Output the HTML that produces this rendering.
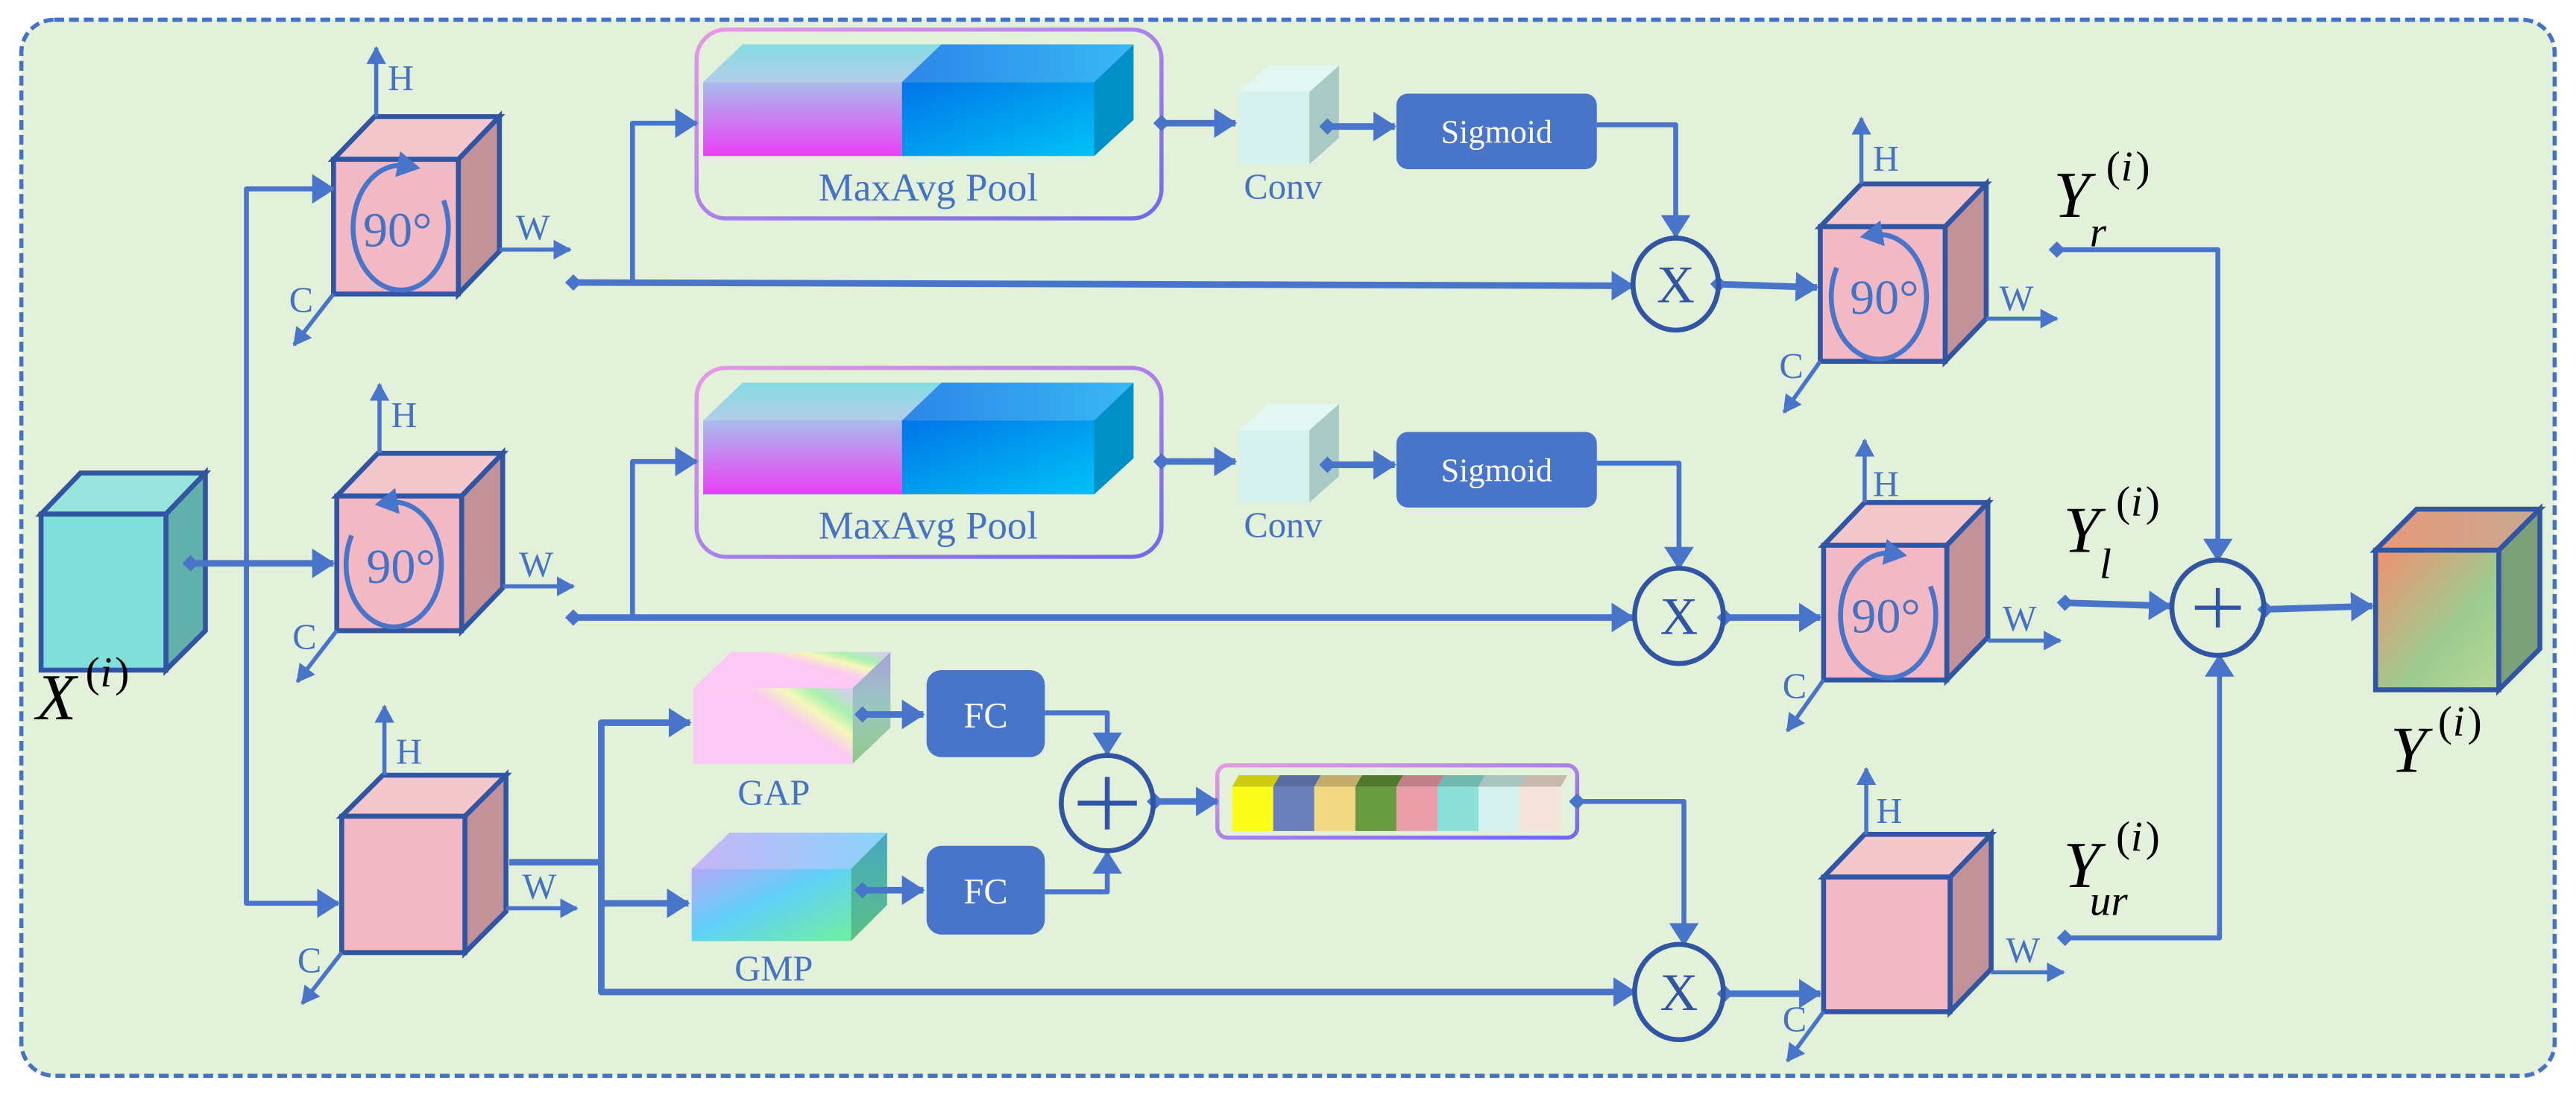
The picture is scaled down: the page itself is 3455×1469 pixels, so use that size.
<!DOCTYPE html>
<html><head><meta charset="utf-8"><style>
html,body{margin:0;padding:0;background:#fff;}
svg{display:block;}
text{font-family:"Liberation Serif",serif;}
</style></head><body>
<svg width="3455" height="1469" viewBox="0 0 1568 666.7" preserveAspectRatio="none" xmlns="http://www.w3.org/2000/svg">
<defs>
<marker id="a" markerUnits="userSpaceOnUse" markerWidth="14" markerHeight="18" refX="13" refY="9" orient="auto"><path d="M0,0 L14,9 L0,18 z" fill="#4874c9"/></marker>
<marker id="s" markerUnits="userSpaceOnUse" markerWidth="11" markerHeight="12" refX="10" refY="6" orient="auto"><path d="M0,0 L11,6 L0,12 z" fill="#4874c9"/></marker>
<marker id="r" markerUnits="userSpaceOnUse" markerWidth="14" markerHeight="16" refX="6" refY="8" orient="auto"><path d="M0,0 L14,8 L0,16 z" fill="#4874c9"/></marker>
<marker id="d" markerUnits="userSpaceOnUse" markerWidth="10" markerHeight="10" refX="5" refY="5" orient="auto"><path d="M0,5 L5,0 L10,5 L5,10 z" fill="#4874c9"/></marker>
<linearGradient id="mL" x1="0" y1="0" x2="0" y2="1"><stop offset="0" stop-color="#a9bceb"/><stop offset="1" stop-color="#ea3ff6"/></linearGradient>
<linearGradient id="mLt" x1="0" y1="0" x2="0" y2="1"><stop offset="0" stop-color="#84dce0"/><stop offset="1" stop-color="#b3cdea"/></linearGradient>
<linearGradient id="mR" x1="0" y1="0" x2="1" y2="1"><stop offset="0" stop-color="#0075e8"/><stop offset="1" stop-color="#00c2f6"/></linearGradient>
<linearGradient id="mRt" x1="0" y1="0" x2="1" y2="0"><stop offset="0" stop-color="#2d86e8"/><stop offset="1" stop-color="#38b8f5"/></linearGradient>
<linearGradient id="bx" x1="0" y1="0" x2="1" y2="1"><stop offset="0" stop-color="#e89ae4"/><stop offset="1" stop-color="#7068f0"/></linearGradient>
<linearGradient id="gap" x1="0" y1="0.7" x2="1" y2="0"><stop offset="0" stop-color="#fcc8f4"/><stop offset="0.55" stop-color="#fcc8f4"/><stop offset="0.7" stop-color="#f4f8b8"/><stop offset="0.82" stop-color="#a8f0b0"/><stop offset="1" stop-color="#e0c8f8"/></linearGradient>
<linearGradient id="gaps" x1="0" y1="0" x2="0" y2="1"><stop offset="0" stop-color="#a8a0d8"/><stop offset="0.5" stop-color="#9ac8c0"/><stop offset="1" stop-color="#90c888"/></linearGradient>
<linearGradient id="gmp" x1="0" y1="0" x2="1" y2="1"><stop offset="0" stop-color="#b4a8f8"/><stop offset="0.45" stop-color="#60d0f8"/><stop offset="1" stop-color="#70f0a0"/></linearGradient>
<linearGradient id="gmpt" x1="0" y1="0" x2="1" y2="0"><stop offset="0" stop-color="#c8b4f8"/><stop offset="1" stop-color="#88d4f8"/></linearGradient>
<linearGradient id="gmps" x1="0" y1="0" x2="0" y2="1"><stop offset="0" stop-color="#48a8c0"/><stop offset="1" stop-color="#58c088"/></linearGradient>
<linearGradient id="out" x1="0" y1="0" x2="1" y2="1"><stop offset="0" stop-color="#f29070"/><stop offset="0.6" stop-color="#9ccc90"/><stop offset="1" stop-color="#b8d898"/></linearGradient>
<linearGradient id="outt" x1="0" y1="0" x2="1" y2="0"><stop offset="0" stop-color="#e89878"/><stop offset="1" stop-color="#c8a890"/></linearGradient>
</defs>
<rect x="0" y="0" width="1568" height="667" fill="#fff"/>
<rect x="13" y="12" width="1542" height="643" rx="20" fill="#e3f0da" stroke="#4472c4" stroke-width="2.5" stroke-dasharray="6,3"/>

<g stroke="#2f55a3" stroke-width="3" stroke-linejoin="miter">
<polygon points="25,313 49,288 125,288 101,313" fill="#98e4dc"/>
<polygon points="101,313 125,288 125,384 101,408" fill="#62b0ab"/>
<rect x="25" y="313" width="76" height="95" fill="#80dfd9"/>
<polygon points="203,97 228,71 304,71 279,97" fill="#f4c7cd"/>
<polygon points="279,97 304,71 304,153 279,179" fill="#c29298"/>
<rect x="203" y="97" width="76" height="82" fill="#f2b8c4"/>
<polygon points="205,302 230,276 306,276 281,302" fill="#f4c7cd"/>
<polygon points="281,302 306,276 306,358 281,384" fill="#c29298"/>
<rect x="205" y="302" width="76" height="82" fill="#f2b8c4"/>
<polygon points="208,497 233,472 308,472 283,497" fill="#f4c7cd"/>
<polygon points="283,497 308,472 308,555 283,580" fill="#c29298"/>
<rect x="208" y="497" width="75" height="83" fill="#f2b8c4"/>
<polygon points="1108,138 1133,112 1209,112 1184,138" fill="#f4c7cd"/>
<polygon points="1184,138 1209,112 1209,194 1184,220" fill="#c29298"/>
<rect x="1108" y="138" width="76" height="82" fill="#f2b8c4"/>
<polygon points="1110,332 1135,306 1210,306 1185,332" fill="#f4c7cd"/>
<polygon points="1185,332 1210,306 1210,388 1185,414" fill="#c29298"/>
<rect x="1110" y="332" width="75" height="82" fill="#f2b8c4"/>
<polygon points="1110,534 1135,508 1212,508 1187,534" fill="#f4c7cd"/>
<polygon points="1187,534 1212,508 1212,590 1187,616" fill="#c29298"/>
<rect x="1110" y="534" width="77" height="82" fill="#f2b8c4"/>
<polygon points="1446,335 1471,310 1546,310 1521,335" fill="url(#outt)"/>
<polygon points="1521,335 1546,310 1546,395 1521,420" fill="#7ca078"/>
<rect x="1446" y="335" width="75" height="85" fill="url(#out)"/>
</g>

<g>
<rect x="424" y="18" width="283" height="115" rx="18" fill="none" stroke="url(#bx)" stroke-width="2.5"/>
<polygon points="428,50 452,27 573,27 549,50" fill="url(#mLt)"/><polygon points="549,50 573,27 690,27 666,50" fill="url(#mRt)"/>
<polygon points="666,50 690,27 690,73 666,95" fill="#0090c8"/>
<rect x="428" y="50" width="121" height="45" fill="url(#mL)"/><rect x="549" y="50" width="117" height="45" fill="url(#mR)"/>
<text x="565" y="122" font-size="24" fill="#4472c4" text-anchor="middle">MaxAvg Pool</text>
</g>
<g transform="translate(0,206)">
<rect x="424" y="18" width="283" height="115" rx="18" fill="none" stroke="url(#bx)" stroke-width="2.5"/>
<polygon points="428,50 452,27 573,27 549,50" fill="url(#mLt)"/><polygon points="549,50 573,27 690,27 666,50" fill="url(#mRt)"/>
<polygon points="666,50 690,27 690,73 666,95" fill="#0090c8"/>
<rect x="428" y="50" width="121" height="45" fill="url(#mL)"/><rect x="549" y="50" width="117" height="45" fill="url(#mR)"/>
<text x="565" y="122" font-size="24" fill="#4472c4" text-anchor="middle">MaxAvg Pool</text>
</g>
<g>
<polygon points="754,56 772,40 815,40 797,56" fill="#e2f6f2"/><polygon points="797,56 815,40 815,84 797,100" fill="#a8c9c4"/><rect x="754" y="56" width="43" height="44" fill="#d5f2ee"/>
<text x="781" y="121" font-size="22" fill="#4472c4" text-anchor="middle">Conv</text>
<rect x="850" y="57" width="122" height="46" rx="7" fill="#4874c9"/>
<text x="911" y="87" font-size="20" fill="#fff" text-anchor="middle">Sigmoid</text>
</g>
<g transform="translate(0,206)">
<polygon points="754,56 772,40 815,40 797,56" fill="#e2f6f2"/><polygon points="797,56 815,40 815,84 797,100" fill="#a8c9c4"/><rect x="754" y="56" width="43" height="44" fill="#d5f2ee"/>
<text x="781" y="121" font-size="22" fill="#4472c4" text-anchor="middle">Conv</text>
<rect x="850" y="57" width="122" height="46" rx="7" fill="#4874c9"/>
<text x="911" y="87" font-size="20" fill="#fff" text-anchor="middle">Sigmoid</text>
</g>
<polygon points="422,419 445,397 542,397 519,419" fill="url(#gap)"/><polygon points="519,419 542,397 542,443 519,465" fill="url(#gaps)"/><rect x="422" y="419" width="97" height="46" fill="url(#gap)"/>
<text x="471" y="490" font-size="22" fill="#4472c4" text-anchor="middle">GAP</text>
<polygon points="421,529 444,507 540,507 518,529" fill="url(#gmpt)"/><polygon points="518,529 540,507 540,551 518,573" fill="url(#gmps)"/><rect x="421" y="529" width="97" height="44" fill="url(#gmp)"/>
<text x="471" y="597" font-size="22" fill="#4472c4" text-anchor="middle">GMP</text>
<rect x="564" y="408" width="72" height="53" rx="9" fill="#4874c9"/><text x="600" y="443" font-size="22" fill="#fff" text-anchor="middle">FC</text>
<rect x="564" y="515" width="72" height="54" rx="9" fill="#4874c9"/><text x="600" y="550" font-size="22" fill="#fff" text-anchor="middle">FC</text>
<rect x="741" y="466" width="219" height="44" rx="6" fill="none" stroke="url(#bx)" stroke-width="2.5"/>
<g>
<polygon points="750,479 754,472 779,472 775,479" fill="#cccc10"/><rect x="750" y="479" width="25" height="27" fill="#fcfc1a"/>
<polygon points="775,479 779,472 804,472 800,479" fill="#5a6da0"/><rect x="775" y="479" width="25" height="27" fill="#6b7fbd"/>
<polygon points="800,479 804,472 829,472 825,479" fill="#c4ad6a"/><rect x="800" y="479" width="25" height="27" fill="#f2d880"/>
<polygon points="825,479 829,472 854,472 850,479" fill="#50782f"/><rect x="825" y="479" width="25" height="27" fill="#6a9a40"/>
<polygon points="850,479 854,472 879,472 875,479" fill="#c08088"/><rect x="850" y="479" width="25" height="27" fill="#eb9fa8"/>
<polygon points="875,479 879,472 904,472 900,479" fill="#70b8b0"/><rect x="875" y="479" width="25" height="27" fill="#8be0d8"/>
<polygon points="900,479 904,472 929,472 925,479" fill="#aac5c0"/><rect x="900" y="479" width="25" height="27" fill="#d5f2ee"/>
<polygon points="925,479 929,472 954,472 950,479" fill="#c8b8ae"/><rect x="925" y="479" width="25" height="27" fill="#f5e4dc"/>
</g>

<g fill="none" stroke="#4874c9" stroke-width="4" stroke-linejoin="round">
<path d="M116,343 L203,343" marker-start="url(#d)" marker-end="url(#a)"/>
<path d="M150,550 L150,115 L203,115" stroke-width="3" marker-end="url(#a)"/>
<path d="M150,343 L150,550 L206,550" stroke-width="3" marker-end="url(#a)"/>
<path d="M349,172 L994,174" marker-start="url(#d)" marker-end="url(#a)"/>
<path d="M385,172 L385,75 L424,75" stroke-width="3" marker-end="url(#a)"/>
<path d="M349,376 L994,376" marker-start="url(#d)" marker-end="url(#a)"/>
<path d="M385,376 L385,281 L424,281" stroke-width="3" marker-end="url(#a)"/>
<path d="M707,75 L752,75" marker-start="url(#d)" marker-end="url(#a)"/>
<path d="M707,281 L752,281" marker-start="url(#d)" marker-end="url(#a)"/>
<path d="M808,77 L849,77" marker-start="url(#d)" marker-end="url(#a)"/>
<path d="M808,283 L849,283" marker-start="url(#d)" marker-end="url(#a)"/>
<path d="M972,76 L1020,76 L1020,144" stroke-width="3" marker-end="url(#a)"/>
<path d="M972,282 L1022,282 L1022,346" stroke-width="3" marker-end="url(#a)"/>
<path d="M1046,173 L1106,175" marker-start="url(#d)" marker-end="url(#a)"/>
<path d="M1050,376 L1108,376" marker-start="url(#d)" marker-end="url(#a)"/>
<path d="M1050,605 L1108,605" marker-start="url(#d)" marker-end="url(#a)"/>
<path d="M310,525 L366,525 L366,604 L995,604" marker-end="url(#a)"/>
<path d="M366,525 L366,440 L420,440" marker-end="url(#a)"/>
<path d="M366,550 L419,550" marker-end="url(#a)"/>
<path d="M525,435 L562,435" marker-start="url(#d)" marker-end="url(#a)"/>
<path d="M525,542 L562,542" marker-start="url(#d)" marker-end="url(#a)"/>
<path d="M636,434 L674,434 L674,459" stroke-width="3" marker-end="url(#a)"/>
<path d="M636,543 L674,543 L674,519" stroke-width="3" marker-end="url(#a)"/>
<path d="M703,488 L741,488" marker-start="url(#d)" marker-end="url(#a)"/>
<path d="M960,488 L1025,488 L1025,575" stroke-width="3" marker-start="url(#d)" marker-end="url(#a)"/>
<path d="M1252,152 L1350,152 L1350,341" stroke-width="3" marker-start="url(#d)" marker-end="url(#a)"/>
<path d="M1257,367 L1321,369" marker-start="url(#d)" marker-end="url(#a)"/>
<path d="M1257,571 L1351,571 L1351,399" stroke-width="3" marker-start="url(#d)" marker-end="url(#a)"/>
<path d="M1379,371 L1444,369" marker-start="url(#d)" marker-end="url(#a)"/>
</g>
<g fill="none" stroke="#4874c9" stroke-width="2.5">
<path d="M229,71 L229,29" marker-end="url(#s)"/><path d="M304,152 L347,152" marker-end="url(#s)"/><path d="M203,179 L179,210" marker-end="url(#s)"/>
<path d="M231,276 L231,234" marker-end="url(#s)"/><path d="M306,357 L349,357" marker-end="url(#s)"/><path d="M205,384 L181,415" marker-end="url(#s)"/>
<path d="M234,472 L234,430" marker-end="url(#s)"/><path d="M308,553 L351,553" marker-end="url(#s)"/><path d="M208,580 L184,611" marker-end="url(#s)"/>
<path d="M1133,112 L1133,72" marker-end="url(#s)"/><path d="M1209,194 L1252,194" marker-end="url(#s)"/><path d="M1108,220 L1086,251" marker-end="url(#s)"/>
<path d="M1135,306 L1135,268" marker-end="url(#s)"/><path d="M1210,390 L1254,390" marker-end="url(#s)"/><path d="M1110,414 L1088,445" marker-end="url(#s)"/>
<path d="M1136,508 L1136,468" marker-end="url(#s)"/><path d="M1212,592 L1256,592" marker-end="url(#s)"/><path d="M1110,616 L1088,646" marker-end="url(#s)"/>
</g>
<g font-size="22" fill="#4472c4">
<text x="236" y="55">H</text><text x="314" y="146">W</text><text x="176" y="190">C</text>
<text x="238" y="260">H</text><text x="316" y="351">W</text><text x="178" y="395">C</text>
<text x="241" y="465">H</text><text x="318" y="547">W</text><text x="181" y="592">C</text>
<text x="1140" y="104">H</text><text x="1217" y="189">W</text><text x="1083" y="230">C</text>
<text x="1140" y="302">H</text><text x="1219" y="384">W</text><text x="1085" y="425">C</text>
<text x="1142" y="501">H</text><text x="1221" y="586">W</text><text x="1085" y="628">C</text>
</g>
<g fill="none" stroke="#4874c9" stroke-width="3">
<path d="M270,122 A29 38 0 1 1 248,101" marker-end="url(#r)"/>
<path d="M214,326 A29 38 0 1 0 236,306" marker-end="url(#r)"/>
<path d="M1118,163 A29 38 0 1 0 1140,143" marker-end="url(#r)"/>
<path d="M1175,357 A29 38 0 1 1 1153,337" marker-end="url(#r)"/>
</g>
<g font-size="30" fill="#4472c4" text-anchor="middle">
<text x="242" y="150">90°</text><text x="244" y="355">90°</text><text x="1147" y="191">90°</text><text x="1148" y="385">90°</text>
</g>
<g fill="none" stroke="#2f55a3" stroke-width="3">
<ellipse cx="1020" cy="173" rx="26" ry="28"/>
<ellipse cx="1022" cy="375" rx="27" ry="29"/>
<ellipse cx="1022" cy="604" rx="27" ry="29"/>
<ellipse cx="1350" cy="370" rx="28" ry="29"/>
<ellipse cx="674" cy="489" rx="28" ry="29"/>
<path d="M1350,358 V382 M1336,370 H1364" stroke-width="2.5"/>
<path d="M674,473 V505 M656,489 H692" stroke-width="3"/>
</g>
<g font-size="32" fill="#2f55a3" text-anchor="middle">
<text x="1020" y="184" font-family="Liberation Sans,sans-serif">X</text>
<text x="1022" y="386" font-family="Liberation Sans,sans-serif">X</text>
<text x="1022" y="615" font-family="Liberation Sans,sans-serif">X</text>
</g>
<g font-style="italic" fill="#000">
<text x="22" y="438" font-size="40">X</text><text x="52" y="418" font-size="26" font-style="normal">(</text><text x="61" y="418" font-size="26">i</text><text x="70" y="418" font-size="26" font-style="normal">)</text>
<text x="1250" y="132" font-size="40">Y</text><text x="1282" y="110" font-size="26" font-style="normal">(</text><text x="1291" y="110" font-size="26">i</text><text x="1300" y="110" font-size="26" font-style="normal">)</text><text x="1272" y="150" font-size="26">r</text>
<text x="1256" y="336" font-size="40">Y</text><text x="1288" y="314" font-size="26" font-style="normal">(</text><text x="1297" y="314" font-size="26">i</text><text x="1306" y="314" font-size="26" font-style="normal">)</text><text x="1278" y="352" font-size="26">l</text>
<text x="1256" y="540" font-size="40">Y</text><text x="1288" y="518" font-size="26" font-style="normal">(</text><text x="1297" y="518" font-size="26">i</text><text x="1306" y="518" font-size="26" font-style="normal">)</text><text x="1272" y="557" font-size="26">ur</text>
<text x="1455" y="470" font-size="40">Y</text><text x="1484" y="448" font-size="26" font-style="normal">(</text><text x="1493" y="448" font-size="26">i</text><text x="1502" y="448" font-size="26" font-style="normal">)</text>
</g>
</svg>
</body></html>
